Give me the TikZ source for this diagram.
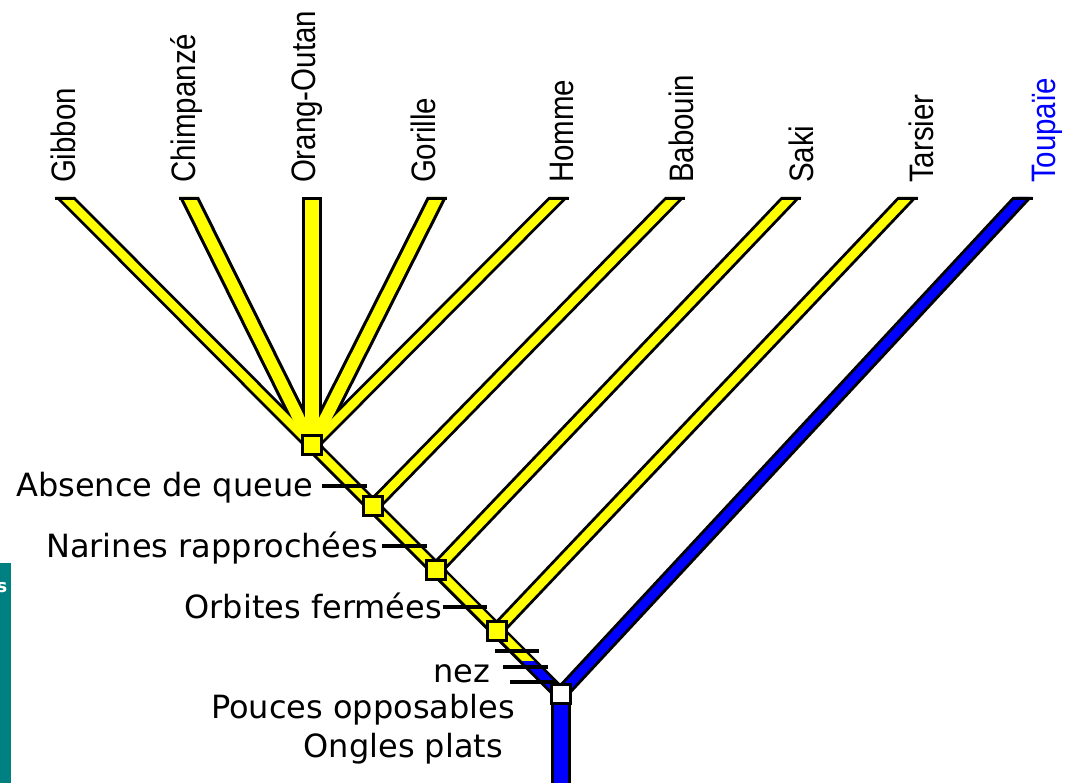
\documentclass[tikz,border=0pt]{standalone}
\usepackage{fontspec}
\setmainfont{DejaVu Sans}
\newfontfamily\topfont{Liberation Sans}
\usetikzlibrary{calc}
\definecolor{yel}{RGB}{255,255,0}
\definecolor{blu}{RGB}{0,0,255}
\definecolor{tealbar}{RGB}{0,128,128}
\newcommand\brout[2]{\fill[black] ([xshift=-10pt]#1) -- ([xshift=10pt]#1) -- ([xshift=10pt]#2) -- ([xshift=-10pt]#2) -- cycle;}
\newcommand\brin[4][6pt]{\fill[#4] ([xshift=-#1]#2) -- ([xshift=#1]#2) -- ([xshift=#1]#3) -- ([xshift=-#1]#3) -- cycle;}
\newcommand\brcap[1]{\fill[black] ([xshift=-10pt]#1) rectangle ([xshift=10pt,yshift=-3pt]#1);}
\begin{document}
\begin{tikzpicture}[x=1pt,y=-1pt,
  lab/.style={font=\fontsize{32}{38}\selectfont, inner sep=0, outer sep=0, anchor=base east},
  toplab/.style={font=\topfont\fontsize{29.5}{30}\selectfont, rotate=90, anchor=base west, inner sep=0, outer sep=0},
  sq/.style={draw=black, line width=3pt, minimum size=19pt, inner sep=0, outer sep=0, fill=yel},
  cline/.style={draw=black, line width=4.5pt}]
\useasboundingbox (0,0) rectangle (1080,783);
\fill[white] (0,0) rectangle (1080,783);
% coordinates of the tree
\coordinate (n1) at (312,445);
\coordinate (n2) at (372.5,506.5);
\coordinate (n3) at (435.5,570);
\coordinate (n4) at (496.5,630.5);
\coordinate (r) at (560.5,694);
\coordinate (bl) at (528,661);
\coordinate (bot) at (560.5,800);
\coordinate (tGi) at (65,197);
\coordinate (tCh) at (189,197);
\coordinate (tOr) at (312,197);
\coordinate (tGo) at (437,197);
\coordinate (tHo) at (558.5,197);
\coordinate (tBa) at (675,197);
\coordinate (tSa) at (791,197);
\coordinate (tTa) at (907.5,197);
\coordinate (tTo) at (1022.5,197);
% outlines
\brout{n1}{tGi}\brout{n1}{tCh}\brout{n1}{tOr}\brout{n1}{tGo}\brout{n1}{tHo}
\brout{n2}{tBa}\brout{n3}{tSa}\brout{n4}{tTa}\brout{r}{tTo}
\brout{n1}{r}\brout{r}{bot}
% fills
\brin{n1}{tGi}{yel}\brin[6.5pt]{n1}{tCh}{yel}\brin[7pt]{n1}{tOr}{yel}\brin[6.5pt]{n1}{tGo}{yel}\brin{n1}{tHo}{yel}
\brin{n2}{tBa}{yel}\brin{n3}{tSa}{yel}\brin{n4}{tTa}{yel}\brin{r}{tTo}{blu}
\brin{n1}{bl}{yel}\brin{bl}{r}{blu}\brin[7pt]{r}{bot}{blu}
% top caps
\brcap{tGi}\brcap{tCh}\brcap{tOr}\brcap{tGo}\brcap{tHo}\brcap{tBa}\brcap{tSa}\brcap{tTa}\brcap{tTo}
% ticks
\coordinate (k1a) at (322,486); \coordinate (k1b) at (367,486);
\coordinate (k2a) at (382,546); \coordinate (k2b) at (427,546);
\coordinate (k3a) at (443,607); \coordinate (k3b) at (487,607);
\coordinate (k4a) at (495,651); \coordinate (k4b) at (539,651);
\coordinate (k5a) at (503,667); \coordinate (k5b) at (548,667);
\coordinate (k6a) at (510,682); \coordinate (k6b) at (557,682);
\draw[cline] (k1a) -- (k1b);
\draw[cline] (k2a) -- (k2b);
\draw[cline] (k3a) -- (k3b);
\draw[cline] (k4a) -- (k4b);
\draw[cline] (k5a) -- (k5b);
\draw[cline] (k6a) -- (k6b);
% nodes
\node[sq] (N1) at (n1) {};
\node[sq] (N2) at (n2) {};
\node[sq] (N3) at (n3) {};
\node[sq] (N4) at (n4) {};
\node[sq, fill=white] (R) at (r) {};
% labels
\node[lab] (l1) at (313,497) {Absence de queue};
\node[lab] (l2) at (378,558) {Narines rapprochées};
\node[lab] (l3) at (442,618) {Orbites fermées};
\node[lab] (l4) at (490,682) {nez};
\node[lab] (l5) at (515,718) {Pouces opposables};
\node[lab] (l6) at (503,757) {Ongles plats};
% top labels
\node[toplab] (a1) at (75,183) {\scalebox{1}[1.15]{Gibbon}};
\node[toplab] (a2) at (195,183) {\scalebox{1}[1.15]{Chimpanzé}};
\node[toplab] (a3) at (315,183) {\scalebox{1}[1.15]{Orang-Outan}};
\node[toplab] (a4) at (435,183) {\scalebox{1}[1.15]{Gorille}};
\node[toplab] (a5) at (573,183) {\scalebox{1}[1.15]{Homme}};
\node[toplab] (a6) at (693,183) {\scalebox{1}[1.15]{Babouin}};
\node[toplab] (a7) at (813,183) {\scalebox{1}[1.15]{Saki}};
\node[toplab] (a8) at (933,183) {\scalebox{1}[1.15]{Tarsier}};
\node[toplab, text=blu] (a9) at (1055,183) {\scalebox{1}[1.15]{Toupaïe}};
% teal strip at left
\begin{scope}
\clip (0,563) rectangle (11,783);
\fill[tealbar] (0,563) rectangle (11,783);
\node[anchor=base east, text=white, font=\bfseries\fontsize{18}{18}\selectfont, inner sep=0] (cut) at (7.5,592) {s};
\end{scope}
\end{tikzpicture}
\end{document}
